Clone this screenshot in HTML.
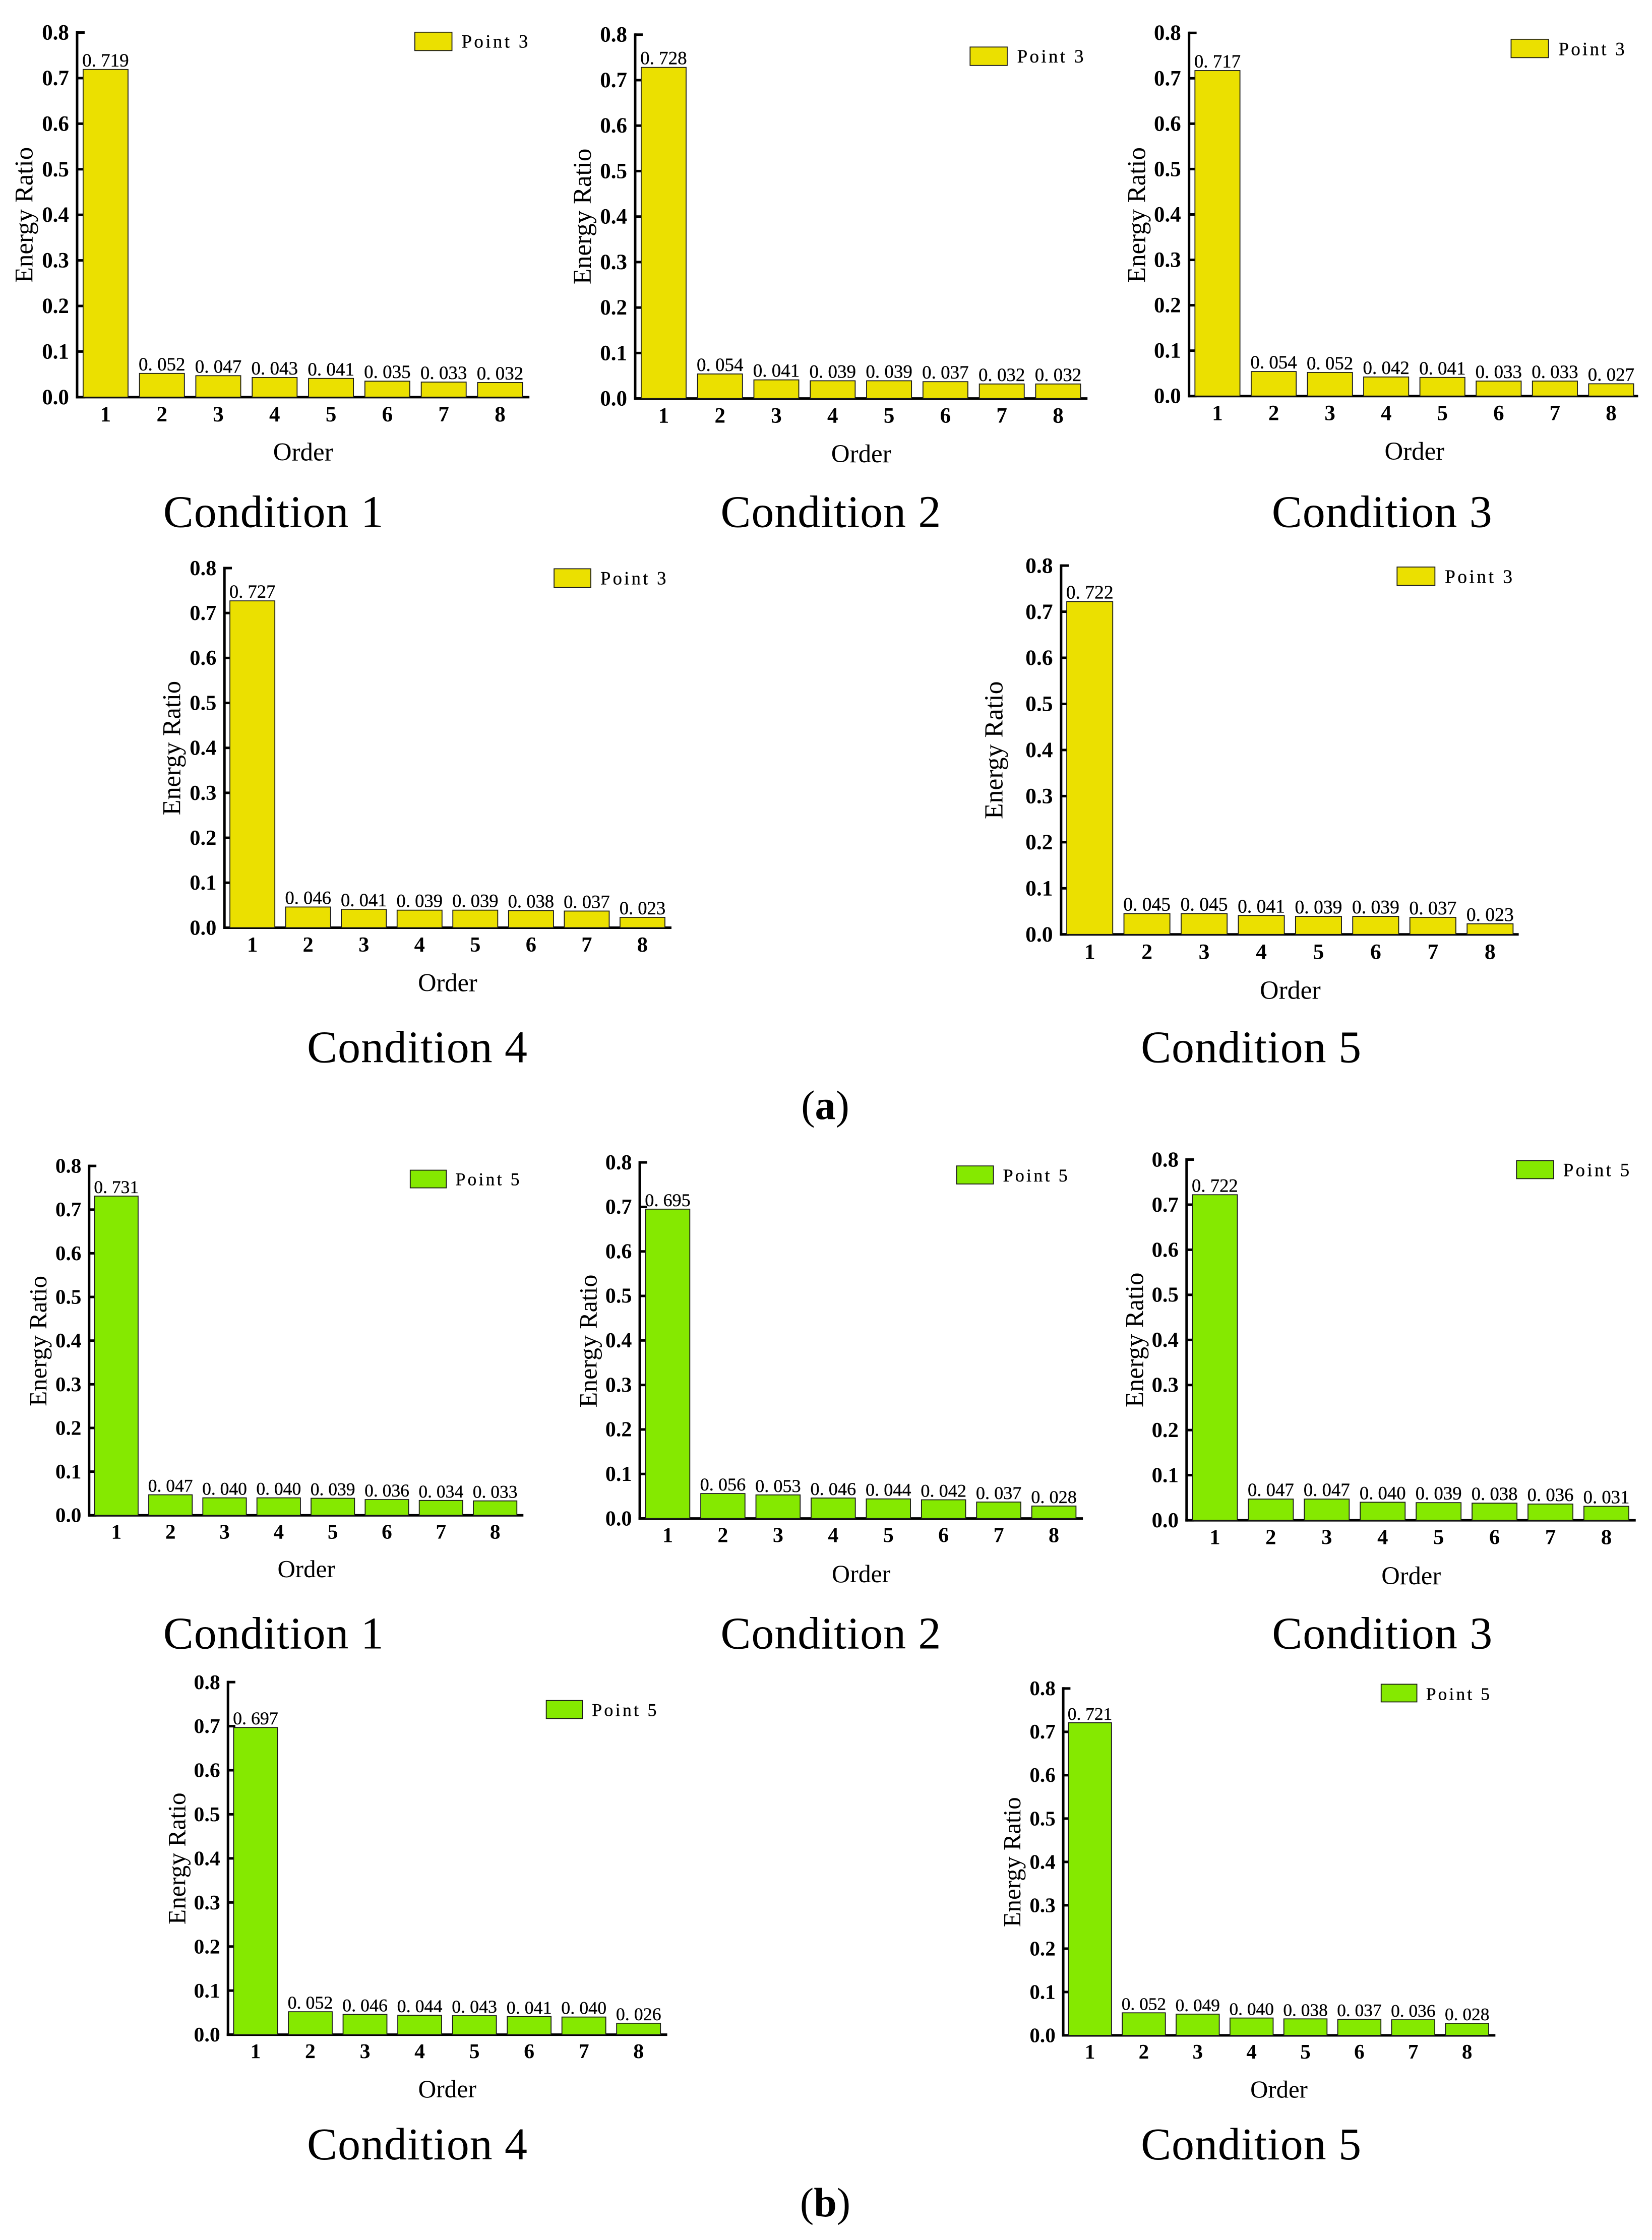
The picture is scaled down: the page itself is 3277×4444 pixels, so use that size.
<!DOCTYPE html>
<html lang="en">
<head>
<meta charset="utf-8">
<title>Energy ratio by order</title>
<style>
html,body{margin:0;padding:0;background:#fff;width:3277px;height:4444px;overflow:hidden}
svg{display:block}
text{font-family:"Liberation Serif","Noto Serif CJK SC",serif;fill:#000}
.tick{font-weight:700}
.cap-b{font-weight:700}
.thin{stroke:#000;stroke-width:0.35px}
</style>
</head>
<body>
<svg id="figure" xmlns="http://www.w3.org/2000/svg" width="3277" height="4444" viewBox="0 0 3277 4444">
<rect x="0" y="0" width="3277" height="4444" fill="#fff"/>
<text x="1637" y="2220" font-size="82" text-anchor="middle">(<tspan class="cap-b">a</tspan>)</text>
<text x="1637" y="4397" font-size="82" text-anchor="middle">(<tspan class="cap-b">b</tspan>)</text>
</svg>
<script>
const categories = ['1', '2', '3', '4', '5', '6', '7', '8'];
const yTickValues = [0, 0.1, 0.2, 0.3, 0.4, 0.5, 0.6, 0.7, 0.8];
const yTickLabels = ['0.0', '0.1', '0.2', '0.3', '0.4', '0.5', '0.6', '0.7', '0.8'];
const yMax = 0.8;

const valuesA1 = [0.719, 0.052, 0.047, 0.043, 0.041, 0.035, 0.033, 0.032];
const valuesA2 = [0.728, 0.054, 0.041, 0.039, 0.039, 0.037, 0.032, 0.032];
const valuesA3 = [0.717, 0.054, 0.052, 0.042, 0.041, 0.033, 0.033, 0.027];
const valuesA4 = [0.727, 0.046, 0.041, 0.039, 0.039, 0.038, 0.037, 0.023];
const valuesA5 = [0.722, 0.045, 0.045, 0.041, 0.039, 0.039, 0.037, 0.023];
const valuesB1 = [0.731, 0.047, 0.040, 0.040, 0.039, 0.036, 0.034, 0.033];
const valuesB2 = [0.695, 0.056, 0.053, 0.046, 0.044, 0.042, 0.037, 0.028];
const valuesB3 = [0.722, 0.047, 0.047, 0.040, 0.039, 0.038, 0.036, 0.031];
const valuesB4 = [0.697, 0.052, 0.046, 0.044, 0.043, 0.041, 0.040, 0.026];
const valuesB5 = [0.721, 0.052, 0.049, 0.040, 0.038, 0.037, 0.036, 0.028];

const YELLOW = '#ebe000';
const GREEN = '#85e900';
const f = 1100 / 1568;
const svg = document.getElementById('figure');
const NS = 'http://www.w3.org/2000/svg';

const panels = [
  {id:'a1',values:valuesA1,color:YELLOW,point:'Point 3',cond:'Condition 1',ox:0,oy:0,axis:218,y8:92,y0:1123,c1:298.5,c8:1414,bw:127,xEnd:1497,lx0:1173,lx1:1278,ly0:91,ly1:143,tx0:1305,tx1:1493,tb:135,yl:92,ylc:608,oc:857,ob:1302,cc:773,cb:1490},
  {id:'a2',values:valuesA2,color:YELLOW,point:'Point 3',cond:'Condition 2',ox:1100,oy:0,axis:228,y8:98,y0:1127,c1:308.5,c8:1424,bw:127,xEnd:1507,lx0:1175,lx1:1280,ly0:133,ly1:185,tx0:1308,tx1:1496,tb:177,yl:103,ylc:612,oc:867,ob:1307,cc:781,cb:1490},
  {id:'a3',values:valuesA3,color:YELLOW,point:'Point 3',cond:'Condition 3',ox:2200,oy:0,fx:1077/1568,axis:231,y8:93,y0:1120,c1:313,c8:1450,bw:130,xEnd:1528,lx0:1161,lx1:1269,ly0:111,ly1:163,tx0:1298,tx1:1489,tb:156,yl:104,ylc:608,oc:882,ob:1300,cc:788,cb:1490},
  {id:'a4',values:valuesA4,color:YELLOW,point:'Point 3',cond:'Condition 4',ox:300,oy:1080,axis:207,y8:67,y0:1084,c1:286,c8:1389,bw:127,xEnd:1471,lx0:1139,lx1:1243,ly0:69,ly1:122,tx0:1270,tx1:1456,tb:113,yl:82,ylc:576,oc:838,ob:1264,cc:752,cb:1465},
  {id:'a5',values:valuesA5,color:YELLOW,point:'Point 3',cond:'Condition 5',ox:1900,oy:1080,axis:292,y8:60,y0:1103,c1:373,c8:1505,bw:130,xEnd:1586,lx0:1242,lx1:1349,ly0:64,ly1:116,tx0:1377,tx1:1568,tb:109,yl:126,ylc:582,oc:940,ob:1285,cc:829,cb:1465},
  {id:'b1',values:valuesB1,color:GREEN,point:'Point 5',cond:'Condition 1',ox:0,oy:2250,axis:252,y8:90,y0:1078,c1:329,c8:1400,bw:123,xEnd:1480,lx0:1160,lx1:1262,ly0:102,ly1:152,tx0:1288,tx1:1469,tb:145,yl:131,ylc:585,oc:866,ob:1253,cc:773,cb:1455},
  {id:'b2',values:valuesB2,color:GREEN,point:'Point 5',cond:'Condition 2',ox:1100,oy:2250,axis:241,y8:80,y0:1087,c1:320,c8:1412,bw:125,xEnd:1494,lx0:1137,lx1:1241,ly0:90,ly1:141,tx0:1268,tx1:1451,tb:134,yl:119,ylc:585,oc:867,ob:1267,cc:781,cb:1455},
  {id:'b3',values:valuesB3,color:GREEN,point:'Point 5',cond:'Condition 3',ox:2177,oy:2250,axis:252,y8:72,y0:1092,c1:332,c8:1439,bw:127,xEnd:1522,lx0:1185,lx1:1290,ly0:75,ly1:126,tx0:1317,tx1:1504,tb:119,yl:129,ylc:582,oc:887,ob:1273,cc:805,cb:1455},
  {id:'b4',values:valuesB4,color:GREEN,point:'Point 5',cond:'Condition 4',ox:300,oy:3300,axis:217,y8:53,y0:1050,c1:295,c8:1378,bw:124,xEnd:1459,lx0:1117,lx1:1219,ly0:105,ly1:156,tx0:1246,tx1:1429,tb:149,yl:96,ylc:552,oc:837,ob:1227,cc:752,cb:1403},
  {id:'b5',values:valuesB5,color:GREEN,point:'Point 5',cond:'Condition 5',ox:1900,oy:3300,axis:298,y8:71,y0:1052,c1:373.5,c8:1440,bw:122,xEnd:1520,lx0:1197,lx1:1298,ly0:59,ly1:109,tx0:1324,tx1:1504,tb:103,yl:177,ylc:562,oc:908,ob:1228,cc:829,cb:1403}
];

function make(parent, tag, attrs, txt) {
  const node = document.createElementNS(NS, tag);
  for (const k in attrs) node.setAttribute(k, attrs[k]);
  if (txt !== undefined) node.textContent = txt;
  parent.appendChild(node);
  return node;
}

panels.forEach(function (p) {
  const fx = p.fx || f;
  const X = function (z) { return p.ox + z * fx; };
  const Y = function (z) { return p.oy + z * f; };
  const axisX = X(p.axis);
  const zeroY = Y(p.y0);
  const topY = Y(p.y8);
  const pitch = (p.c8 - p.c1) / 7 * fx;
  const s = pitch / 111.8;
  const yScale = function (v) { return zeroY - (v / yMax) * (zeroY - topY); };
  const xScale = function (i) { return X(p.c1) + i * pitch; };

  const g = make(svg, 'g', {});
  
  

  const yAxis = make(g, 'line', {x1: axisX, x2: axisX, y1: topY - 2.5, y2: zeroY + 2.5, stroke: '#000', 'stroke-width': 5});
  
  

  const xAxis = make(g, 'line', {x1: axisX - 2.5, x2: X(p.xEnd), y1: zeroY, y2: zeroY, stroke: '#000', 'stroke-width': 5});
  
  

  yTickValues.forEach(function (v, i) {
    const ty = yScale(v);
    const tick = make(g, 'line', {x1: axisX, x2: axisX + 15 * s, y1: ty, y2: ty, stroke: '#000', 'stroke-width': 5});
    
    
    const lab = make(g, 'text', {class: 'tick', x: axisX - 16 * s, y: ty + 14 * s, 'font-size': 43 * s, 'text-anchor': 'end'}, yTickLabels[i]);
    
    
  });

  categories.forEach(function (c, i) {
    const v = p.values[i];
    const cx = xScale(i);
    const by = yScale(v);
    const w = p.bw * fx;
    const bar = make(g, 'rect', {x: cx - w / 2, y: by, width: w, height: zeroY - by, fill: p.color, stroke: '#1a1a1a', 'stroke-width': 1.8});
    
    

    const fs = 37 * s;
    const str = v.toFixed(3);
    const val = make(g, 'text', {class: 'thin', x: cx, y: by - 6, 'font-size': fs, 'text-anchor': 'middle'}, str.slice(0, 2));
    make(val, 'tspan', {dx: fs * 0.25}, str.slice(2));
    
    

    const xl = make(g, 'text', {class: 'tick', x: cx, y: zeroY + 48 * s, 'font-size': 43 * s, 'text-anchor': 'middle'}, c);
    
    
  });

  const yTitleX = X(p.yl);
  const yTitleY = Y(p.ylc);
  const yTitle = make(g, 'text', {x: yTitleX, y: yTitleY, 'font-size': 51 * s, 'text-anchor': 'middle', transform: 'rotate(-90 ' + yTitleX + ' ' + yTitleY + ')'}, 'Energy Ratio');
  
  

  const xTitle = make(g, 'text', {x: X(p.oc), y: Y(p.ob), 'font-size': 51 * s, 'text-anchor': 'middle'}, 'Order');
  
  

  const swatch = make(g, 'rect', {x: X(p.lx0), y: Y(p.ly0), width: (p.lx1 - p.lx0) * fx, height: (p.ly1 - p.ly0) * f, fill: p.color, stroke: '#1a1a1a', 'stroke-width': 1.8});
  
  

  const legendText = make(g, 'text', {class: 'thin', x: X(p.tx0), y: Y(p.tb), 'font-size': 37 * s, textLength: (p.tx1 - p.tx0) * fx, lengthAdjust: 'spacing'}, p.point);
  
  

  const title = make(g, 'text', {x: X(p.cc), y: Y(p.cb), 'font-size': 90, 'text-anchor': 'middle', textLength: 437, lengthAdjust: 'spacing'}, p.cond);
  
  
});
</script>
</body>
</html>
